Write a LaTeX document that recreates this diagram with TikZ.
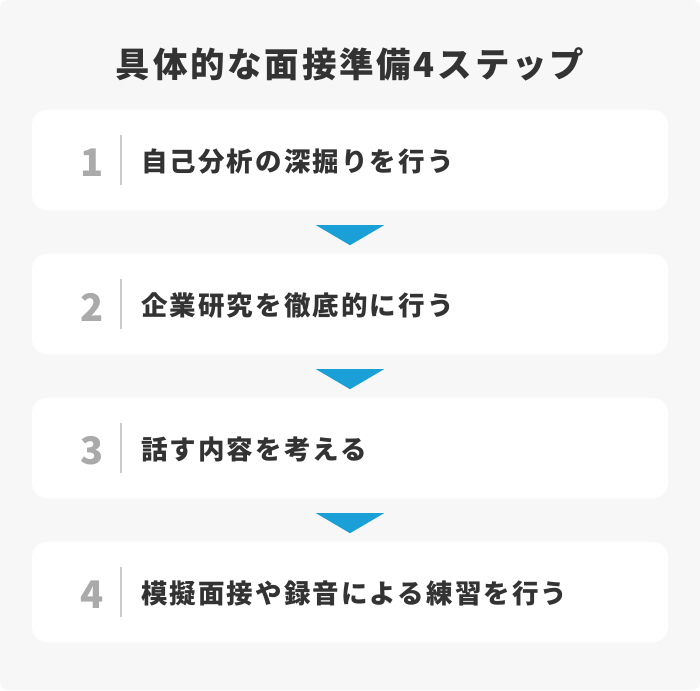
\documentclass[tikz,border=0pt]{standalone}
\usepackage{fontspec}
\setmainfont{Noto Sans CJK JP}
\usetikzlibrary{calc}

\definecolor{bggray}{HTML}{F7F7F7}
\definecolor{textdark}{HTML}{333333}
\definecolor{numgray}{HTML}{AAAAAA}
\definecolor{sepgray}{HTML}{CCCCCC}
\definecolor{arrowblue}{HTML}{1A9FD6}

\begin{document}
\begin{tikzpicture}[x=1pt,y=-1pt,
    title/.style={font=\fontsize{34.5}{40}\selectfont\bfseries\addfontfeatures{LetterSpace=8},text=textdark,inner sep=0pt},
    stepbox/.style={rectangle,rounded corners=15pt,fill=white,minimum width=636pt,minimum height=100pt,inner sep=0pt},
    num/.style={font=\fontsize{38}{40}\selectfont\bfseries,text=numgray,inner sep=0pt},
    steptext/.style={font=\fontsize{26.5}{30}\selectfont\bfseries\addfontfeatures{LetterSpace=8},text=textdark,anchor=west,inner sep=0pt},
    sep/.style={draw=sepgray,line width=2pt},
    down/.style={fill=arrowblue},
]

    %%%
    % Background
    \fill[white] (0,0) rectangle (700,690);
    \fill[bggray,rounded corners=8pt] (0,0) rectangle (700,690);

    \node[title] (title) at (350,64) {具体的な面接準備4ステップ};

    %%%
    % Steps
    \foreach \i/\txt in {1/自己分析の深掘りを行う,2/企業研究を徹底的に行う,3/話す内容を考える,4/模擬面接や録音による練習を行う}{
        \node[stepbox] (step\i) at (350,{160+144*(\i-1)}) {};
        \node[num] (num\i) at ($(step\i.west)+(60,3)$) {\i};
        \draw[sep] ($(step\i.west)+(89,-25)$) -- ($(step\i.west)+(89,25)$);
        \node[steptext] (text\i) at ($(step\i.west)+(109,1.5)$) {\txt};
    }

    %%%
    % Arrows between steps
    \foreach \i in {1,2,3}{
        \fill[down] ($(step\i.south)+(-34,15)$) -- ++(68,0) -- ++(-34,20) -- cycle;
    }

\end{tikzpicture}
\end{document}
